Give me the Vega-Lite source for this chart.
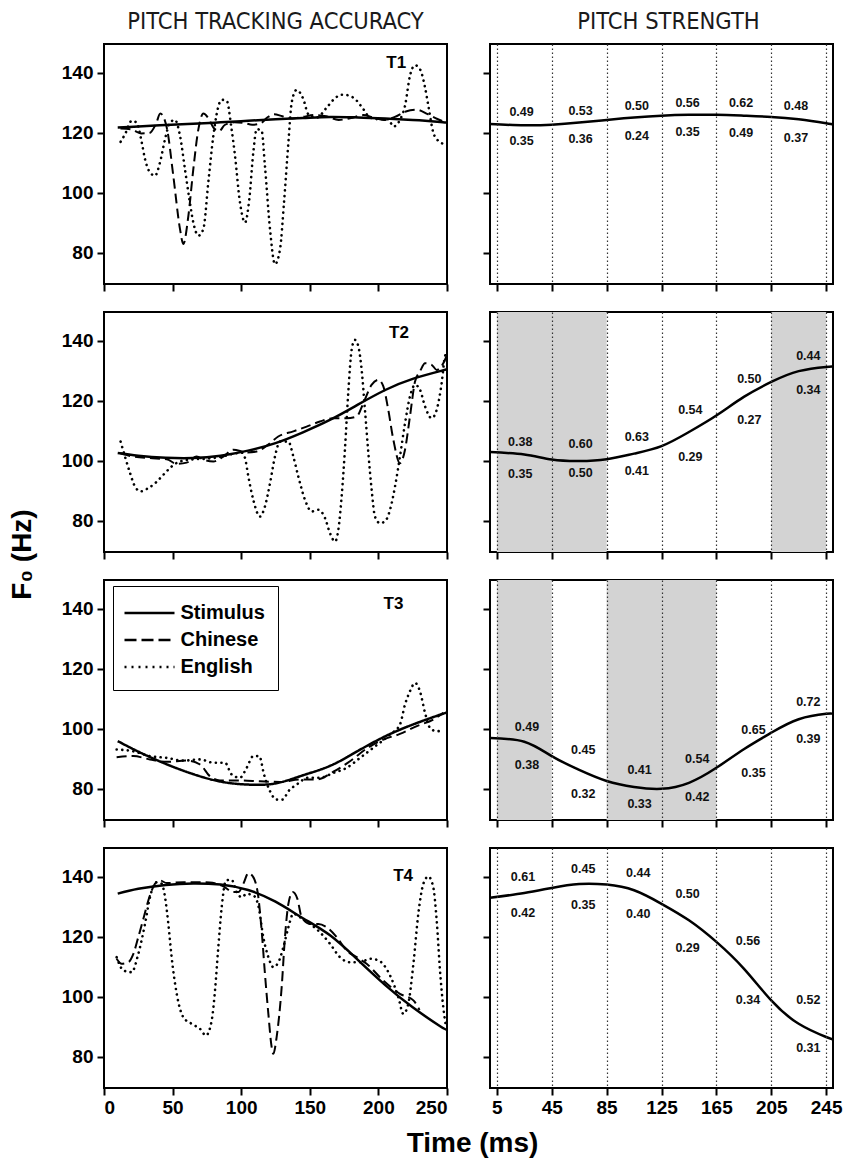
{
  "$schema": "https://vega.github.io/schema/vega-lite/v6.json",
  "background": "white",
  "padding": {"left": 7, "top": 8, "right": 0, "bottom": 0},
  "columns": 2,
  "bounds": "flush",
  "spacing": {"row": 28, "column": 43},
  "resolve": {"scale": {"strokeDash": "independent"}, "legend": {"strokeDash": "independent"}},
  "datasets": {
    "tracks": [
      {"tone":"T1","group":"Stimulus","t":10,"f0":121.7},{"tone":"T1","group":"Stimulus","t":25,"f0":122.0},{"tone":"T1","group":"Stimulus","t":45,"f0":122.5},{"tone":"T1","group":"Stimulus","t":65,"f0":122.9},{"tone":"T1","group":"Stimulus","t":85,"f0":123.4},{"tone":"T1","group":"Stimulus","t":105,"f0":123.9},{"tone":"T1","group":"Stimulus","t":125,"f0":124.4},{"tone":"T1","group":"Stimulus","t":145,"f0":124.8},{"tone":"T1","group":"Stimulus","t":165,"f0":125.2},{"tone":"T1","group":"Stimulus","t":185,"f0":125.0},{"tone":"T1","group":"Stimulus","t":205,"f0":124.7},{"tone":"T1","group":"Stimulus","t":225,"f0":124.2},{"tone":"T1","group":"Stimulus","t":245,"f0":123.5},{"tone":"T1","group":"Stimulus","t":250,"f0":123.3},
      {"tone":"T1","group":"Chinese","t":12,"f0":121.3},{"tone":"T1","group":"Chinese","t":20,"f0":121.0},{"tone":"T1","group":"Chinese","t":27,"f0":119.7},{"tone":"T1","group":"Chinese","t":33,"f0":119.8},{"tone":"T1","group":"Chinese","t":38,"f0":123.0},{"tone":"T1","group":"Chinese","t":41,"f0":126.3},{"tone":"T1","group":"Chinese","t":44,"f0":124.5},{"tone":"T1","group":"Chinese","t":46,"f0":121.1},{"tone":"T1","group":"Chinese","t":50.5,"f0":105.6},{"tone":"T1","group":"Chinese","t":55.4,"f0":87.8},{"tone":"T1","group":"Chinese","t":57.8,"f0":82.8},{"tone":"T1","group":"Chinese","t":61.5,"f0":92.2},{"tone":"T1","group":"Chinese","t":65.1,"f0":107.8},{"tone":"T1","group":"Chinese","t":68.8,"f0":121.1},{"tone":"T1","group":"Chinese","t":72.4,"f0":126.3},{"tone":"T1","group":"Chinese","t":76,"f0":124.8},{"tone":"T1","group":"Chinese","t":80,"f0":121.5},{"tone":"T1","group":"Chinese","t":84,"f0":120.5},{"tone":"T1","group":"Chinese","t":88,"f0":122.5},{"tone":"T1","group":"Chinese","t":95,"f0":123.4},{"tone":"T1","group":"Chinese","t":102,"f0":123.2},{"tone":"T1","group":"Chinese","t":108,"f0":122.6},{"tone":"T1","group":"Chinese","t":114,"f0":123.0},{"tone":"T1","group":"Chinese","t":119,"f0":125.0},{"tone":"T1","group":"Chinese","t":124,"f0":126.1},{"tone":"T1","group":"Chinese","t":130,"f0":125.4},{"tone":"T1","group":"Chinese","t":137,"f0":124.7},{"tone":"T1","group":"Chinese","t":145,"f0":125.2},{"tone":"T1","group":"Chinese","t":153,"f0":125.8},{"tone":"T1","group":"Chinese","t":162,"f0":125.4},{"tone":"T1","group":"Chinese","t":171,"f0":124.2},{"tone":"T1","group":"Chinese","t":180,"f0":124.8},{"tone":"T1","group":"Chinese","t":189,"f0":125.8},{"tone":"T1","group":"Chinese","t":196,"f0":125.0},{"tone":"T1","group":"Chinese","t":204,"f0":124.2},{"tone":"T1","group":"Chinese","t":212,"f0":125.2},{"tone":"T1","group":"Chinese","t":220,"f0":127.0},{"tone":"T1","group":"Chinese","t":228,"f0":127.6},{"tone":"T1","group":"Chinese","t":236,"f0":126.1},{"tone":"T1","group":"Chinese","t":243,"f0":124.5},{"tone":"T1","group":"Chinese","t":250,"f0":123.3},
      {"tone":"T1","group":"English","t":12.1,"f0":116.9},{"tone":"T1","group":"English","t":15.3,"f0":119.4},{"tone":"T1","group":"English","t":20.2,"f0":123.9},{"tone":"T1","group":"English","t":23.8,"f0":123.3},{"tone":"T1","group":"English","t":27.5,"f0":116.7},{"tone":"T1","group":"English","t":29.9,"f0":111.1},{"tone":"T1","group":"English","t":33.5,"f0":106.7},{"tone":"T1","group":"English","t":37.2,"f0":105.6},{"tone":"T1","group":"English","t":40.8,"f0":110.0},{"tone":"T1","group":"English","t":44.5,"f0":117.8},{"tone":"T1","group":"English","t":48.1,"f0":123.3},{"tone":"T1","group":"English","t":51.7,"f0":124.2},{"tone":"T1","group":"English","t":55.4,"f0":118.9},{"tone":"T1","group":"English","t":59,"f0":107.8},{"tone":"T1","group":"English","t":62.2,"f0":97.8},{"tone":"T1","group":"English","t":65.1,"f0":90.0},{"tone":"T1","group":"English","t":68.8,"f0":85.6},{"tone":"T1","group":"English","t":72.4,"f0":87.8},{"tone":"T1","group":"English","t":76,"f0":103.3},{"tone":"T1","group":"English","t":79.7,"f0":118.9},{"tone":"T1","group":"English","t":82.1,"f0":126.1},{"tone":"T1","group":"English","t":85.8,"f0":130.9},{"tone":"T1","group":"English","t":89.4,"f0":130.6},{"tone":"T1","group":"English","t":93,"f0":121.1},{"tone":"T1","group":"English","t":95.5,"f0":112.2},{"tone":"T1","group":"English","t":99.1,"f0":96.7},{"tone":"T1","group":"English","t":102.8,"f0":90.0},{"tone":"T1","group":"English","t":105.9,"f0":97.8},{"tone":"T1","group":"English","t":108.8,"f0":113.3},{"tone":"T1","group":"English","t":111.3,"f0":121.1},{"tone":"T1","group":"English","t":114.9,"f0":120.6},{"tone":"T1","group":"English","t":117.3,"f0":108.9},{"tone":"T1","group":"English","t":121,"f0":87.8},{"tone":"T1","group":"English","t":124.6,"f0":76.1},{"tone":"T1","group":"English","t":128.3,"f0":81.1},{"tone":"T1","group":"English","t":131.2,"f0":96.7},{"tone":"T1","group":"English","t":134.4,"f0":116.7},{"tone":"T1","group":"English","t":136.8,"f0":130.0},{"tone":"T1","group":"English","t":140.4,"f0":134.2},{"tone":"T1","group":"English","t":145.3,"f0":131.1},{"tone":"T1","group":"English","t":148.9,"f0":126.1},{"tone":"T1","group":"English","t":155,"f0":125.0},{"tone":"T1","group":"English","t":162.3,"f0":128.3},{"tone":"T1","group":"English","t":167.2,"f0":130.9},{"tone":"T1","group":"English","t":173.2,"f0":132.6},{"tone":"T1","group":"English","t":178,"f0":132.4},{"tone":"T1","group":"English","t":184.2,"f0":130.6},{"tone":"T1","group":"English","t":189,"f0":127.8},{"tone":"T1","group":"English","t":193.9,"f0":125.0},{"tone":"T1","group":"English","t":201.2,"f0":124.4},{"tone":"T1","group":"English","t":207.2,"f0":124.4},{"tone":"T1","group":"English","t":210.9,"f0":122.0},{"tone":"T1","group":"English","t":215.7,"f0":124.2},{"tone":"T1","group":"English","t":219.4,"f0":128.9},{"tone":"T1","group":"English","t":223,"f0":138.9},{"tone":"T1","group":"English","t":226.7,"f0":142.4},{"tone":"T1","group":"English","t":230.3,"f0":141.1},{"tone":"T1","group":"English","t":234,"f0":135.0},{"tone":"T1","group":"English","t":236.4,"f0":128.9},{"tone":"T1","group":"English","t":240,"f0":120.0},{"tone":"T1","group":"English","t":243.7,"f0":117.2},{"tone":"T1","group":"English","t":248.5,"f0":116.1},
      {"tone":"T2","group":"Stimulus","t":10,"f0":102.5},{"tone":"T2","group":"Stimulus","t":25,"f0":101.6},{"tone":"T2","group":"Stimulus","t":45,"f0":100.9},{"tone":"T2","group":"Stimulus","t":65,"f0":100.8},{"tone":"T2","group":"Stimulus","t":85,"f0":101.6},{"tone":"T2","group":"Stimulus","t":105,"f0":103.3},{"tone":"T2","group":"Stimulus","t":125,"f0":105.8},{"tone":"T2","group":"Stimulus","t":145,"f0":109.4},{"tone":"T2","group":"Stimulus","t":165,"f0":113.6},{"tone":"T2","group":"Stimulus","t":185,"f0":118.6},{"tone":"T2","group":"Stimulus","t":205,"f0":123.5},{"tone":"T2","group":"Stimulus","t":225,"f0":127.2},{"tone":"T2","group":"Stimulus","t":245,"f0":129.8},{"tone":"T2","group":"Stimulus","t":250,"f0":130.4},
      {"tone":"T2","group":"Chinese","t":12,"f0":102.4},{"tone":"T2","group":"Chinese","t":21.4,"f0":101.3},{"tone":"T2","group":"Chinese","t":33.5,"f0":100.8},{"tone":"T2","group":"Chinese","t":45.7,"f0":100.4},{"tone":"T2","group":"Chinese","t":53,"f0":98.9},{"tone":"T2","group":"Chinese","t":60.3,"f0":99.3},{"tone":"T2","group":"Chinese","t":67.5,"f0":101.3},{"tone":"T2","group":"Chinese","t":73,"f0":100.2},{"tone":"T2","group":"Chinese","t":79.7,"f0":99.7},{"tone":"T2","group":"Chinese","t":87,"f0":101.3},{"tone":"T2","group":"Chinese","t":94.3,"f0":103.6},{"tone":"T2","group":"Chinese","t":104,"f0":102.7},{"tone":"T2","group":"Chinese","t":111.3,"f0":103.0},{"tone":"T2","group":"Chinese","t":121,"f0":105.8},{"tone":"T2","group":"Chinese","t":127,"f0":108.0},{"tone":"T2","group":"Chinese","t":138,"f0":109.7},{"tone":"T2","group":"Chinese","t":147.7,"f0":111.3},{"tone":"T2","group":"Chinese","t":157.4,"f0":113.0},{"tone":"T2","group":"Chinese","t":167.2,"f0":114.1},{"tone":"T2","group":"Chinese","t":176.9,"f0":114.1},{"tone":"T2","group":"Chinese","t":184.2,"f0":114.7},{"tone":"T2","group":"Chinese","t":189,"f0":119.1},{"tone":"T2","group":"Chinese","t":195,"f0":125.2},{"tone":"T2","group":"Chinese","t":200,"f0":126.9},{"tone":"T2","group":"Chinese","t":203.6,"f0":124.7},{"tone":"T2","group":"Chinese","t":207.2,"f0":116.9},{"tone":"T2","group":"Chinese","t":210.9,"f0":106.9},{"tone":"T2","group":"Chinese","t":215.7,"f0":99.1},{"tone":"T2","group":"Chinese","t":219.4,"f0":103.6},{"tone":"T2","group":"Chinese","t":223,"f0":114.7},{"tone":"T2","group":"Chinese","t":226.7,"f0":126.3},{"tone":"T2","group":"Chinese","t":230.3,"f0":129.7},{"tone":"T2","group":"Chinese","t":234,"f0":132.4},{"tone":"T2","group":"Chinese","t":238.8,"f0":131.9},{"tone":"T2","group":"Chinese","t":242.5,"f0":130.2},{"tone":"T2","group":"Chinese","t":247.3,"f0":132.4},{"tone":"T2","group":"Chinese","t":249.8,"f0":135.0},
      {"tone":"T2","group":"English","t":12.1,"f0":106.3},{"tone":"T2","group":"English","t":15.3,"f0":101.3},{"tone":"T2","group":"English","t":19,"f0":95.8},{"tone":"T2","group":"English","t":22.6,"f0":91.3},{"tone":"T2","group":"English","t":26.7,"f0":89.7},{"tone":"T2","group":"English","t":32.3,"f0":90.8},{"tone":"T2","group":"English","t":37.2,"f0":92.4},{"tone":"T2","group":"English","t":43.2,"f0":95.2},{"tone":"T2","group":"English","t":49.3,"f0":98.0},{"tone":"T2","group":"English","t":55,"f0":99.6},{"tone":"T2","group":"English","t":65,"f0":100.4},{"tone":"T2","group":"English","t":75,"f0":100.6},{"tone":"T2","group":"English","t":85,"f0":101.2},{"tone":"T2","group":"English","t":95,"f0":102.3},{"tone":"T2","group":"English","t":100.5,"f0":102.6},{"tone":"T2","group":"English","t":102.8,"f0":100.8},{"tone":"T2","group":"English","t":105.2,"f0":94.7},{"tone":"T2","group":"English","t":108.8,"f0":86.9},{"tone":"T2","group":"English","t":113.7,"f0":81.3},{"tone":"T2","group":"English","t":117.3,"f0":84.7},{"tone":"T2","group":"English","t":121,"f0":92.4},{"tone":"T2","group":"English","t":124.6,"f0":101.3},{"tone":"T2","group":"English","t":128.3,"f0":106.3},{"tone":"T2","group":"English","t":134.4,"f0":106.3},{"tone":"T2","group":"English","t":138,"f0":101.3},{"tone":"T2","group":"English","t":141.6,"f0":94.7},{"tone":"T2","group":"English","t":146.5,"f0":86.9},{"tone":"T2","group":"English","t":151.4,"f0":83.0},{"tone":"T2","group":"English","t":156.2,"f0":83.6},{"tone":"T2","group":"English","t":161.1,"f0":80.8},{"tone":"T2","group":"English","t":164.7,"f0":75.8},{"tone":"T2","group":"English","t":168.4,"f0":73.0},{"tone":"T2","group":"English","t":170.8,"f0":76.9},{"tone":"T2","group":"English","t":173.2,"f0":88.0},{"tone":"T2","group":"English","t":175.6,"f0":103.6},{"tone":"T2","group":"English","t":178,"f0":122.4},{"tone":"T2","group":"English","t":180.5,"f0":136.9},{"tone":"T2","group":"English","t":182.9,"f0":140.2},{"tone":"T2","group":"English","t":185.4,"f0":138.0},{"tone":"T2","group":"English","t":187.8,"f0":130.2},{"tone":"T2","group":"English","t":190.2,"f0":116.9},{"tone":"T2","group":"English","t":192.7,"f0":102.4},{"tone":"T2","group":"English","t":195.1,"f0":90.2},{"tone":"T2","group":"English","t":197.5,"f0":81.3},{"tone":"T2","group":"English","t":201.2,"f0":79.1},{"tone":"T2","group":"English","t":204.8,"f0":79.7},{"tone":"T2","group":"English","t":208.5,"f0":83.6},{"tone":"T2","group":"English","t":212.1,"f0":91.3},{"tone":"T2","group":"English","t":215.7,"f0":101.3},{"tone":"T2","group":"English","t":219.4,"f0":112.4},{"tone":"T2","group":"English","t":223,"f0":121.3},{"tone":"T2","group":"English","t":226.7,"f0":125.2},{"tone":"T2","group":"English","t":230.3,"f0":123.6},{"tone":"T2","group":"English","t":234,"f0":118.0},{"tone":"T2","group":"English","t":238.8,"f0":114.1},{"tone":"T2","group":"English","t":242.5,"f0":116.9},{"tone":"T2","group":"English","t":246.1,"f0":125.8},{"tone":"T2","group":"English","t":248.5,"f0":134.7},{"tone":"T2","group":"English","t":249.8,"f0":135.8},
      {"tone":"T3","group":"Stimulus","t":10,"f0":95.8},{"tone":"T3","group":"Stimulus","t":25,"f0":92.3},{"tone":"T3","group":"Stimulus","t":45,"f0":88.2},{"tone":"T3","group":"Stimulus","t":65,"f0":84.8},{"tone":"T3","group":"Stimulus","t":85,"f0":82.3},{"tone":"T3","group":"Stimulus","t":105,"f0":81.3},{"tone":"T3","group":"Stimulus","t":125,"f0":81.7},{"tone":"T3","group":"Stimulus","t":145,"f0":84.4},{"tone":"T3","group":"Stimulus","t":165,"f0":87.6},{"tone":"T3","group":"Stimulus","t":185,"f0":92.5},{"tone":"T3","group":"Stimulus","t":205,"f0":97.4},{"tone":"T3","group":"Stimulus","t":225,"f0":101.3},{"tone":"T3","group":"Stimulus","t":245,"f0":104.6},{"tone":"T3","group":"Stimulus","t":250,"f0":105.3},
      {"tone":"T3","group":"Chinese","t":9.2,"f0":90.4},{"tone":"T3","group":"Chinese","t":21.4,"f0":90.8},{"tone":"T3","group":"Chinese","t":33.5,"f0":89.7},{"tone":"T3","group":"Chinese","t":45.7,"f0":88.9},{"tone":"T3","group":"Chinese","t":60.3,"f0":89.3},{"tone":"T3","group":"Chinese","t":70,"f0":88.0},{"tone":"T3","group":"Chinese","t":77.2,"f0":84.1},{"tone":"T3","group":"Chinese","t":84.5,"f0":82.7},{"tone":"T3","group":"Chinese","t":99.1,"f0":82.7},{"tone":"T3","group":"Chinese","t":113.7,"f0":82.4},{"tone":"T3","group":"Chinese","t":128.3,"f0":82.2},{"tone":"T3","group":"Chinese","t":142.9,"f0":83.0},{"tone":"T3","group":"Chinese","t":155,"f0":83.0},{"tone":"T3","group":"Chinese","t":167.2,"f0":85.6},{"tone":"T3","group":"Chinese","t":179.3,"f0":89.1},{"tone":"T3","group":"Chinese","t":191.4,"f0":93.3},{"tone":"T3","group":"Chinese","t":203.6,"f0":96.3},{"tone":"T3","group":"Chinese","t":215.7,"f0":98.2},{"tone":"T3","group":"Chinese","t":228,"f0":100.8},{"tone":"T3","group":"Chinese","t":240,"f0":103.0},{"tone":"T3","group":"Chinese","t":247.3,"f0":105.2},
      {"tone":"T3","group":"English","t":9.2,"f0":93.0},{"tone":"T3","group":"English","t":21.4,"f0":92.4},{"tone":"T3","group":"English","t":33.5,"f0":90.8},{"tone":"T3","group":"English","t":45.7,"f0":90.2},{"tone":"T3","group":"English","t":57.8,"f0":89.3},{"tone":"T3","group":"English","t":70,"f0":89.7},{"tone":"T3","group":"English","t":79.7,"f0":88.6},{"tone":"T3","group":"English","t":88.2,"f0":88.6},{"tone":"T3","group":"English","t":93,"f0":84.7},{"tone":"T3","group":"English","t":99.1,"f0":83.6},{"tone":"T3","group":"English","t":104,"f0":86.9},{"tone":"T3","group":"English","t":108.8,"f0":90.8},{"tone":"T3","group":"English","t":113.2,"f0":90.8},{"tone":"T3","group":"English","t":116.6,"f0":84.7},{"tone":"T3","group":"English","t":121,"f0":79.1},{"tone":"T3","group":"English","t":125.8,"f0":76.3},{"tone":"T3","group":"English","t":130.2,"f0":76.3},{"tone":"T3","group":"English","t":134.4,"f0":79.1},{"tone":"T3","group":"English","t":140.4,"f0":81.3},{"tone":"T3","group":"English","t":148.9,"f0":83.6},{"tone":"T3","group":"English","t":157.4,"f0":83.6},{"tone":"T3","group":"English","t":167.2,"f0":85.2},{"tone":"T3","group":"English","t":176.9,"f0":86.9},{"tone":"T3","group":"English","t":186.6,"f0":90.2},{"tone":"T3","group":"English","t":196.3,"f0":93.6},{"tone":"T3","group":"English","t":208.5,"f0":98.0},{"tone":"T3","group":"English","t":215.7,"f0":101.3},{"tone":"T3","group":"English","t":219.4,"f0":108.0},{"tone":"T3","group":"English","t":223,"f0":112.4},{"tone":"T3","group":"English","t":226.7,"f0":115.2},{"tone":"T3","group":"English","t":230.3,"f0":112.4},{"tone":"T3","group":"English","t":234,"f0":105.2},{"tone":"T3","group":"English","t":237.6,"f0":100.2},{"tone":"T3","group":"English","t":242.5,"f0":99.1},{"tone":"T3","group":"English","t":247.3,"f0":99.3},
      {"tone":"T4","group":"Stimulus","t":10,"f0":134.3},{"tone":"T4","group":"Stimulus","t":25,"f0":135.9},{"tone":"T4","group":"Stimulus","t":45,"f0":137.2},{"tone":"T4","group":"Stimulus","t":65,"f0":137.7},{"tone":"T4","group":"Stimulus","t":85,"f0":137.3},{"tone":"T4","group":"Stimulus","t":105,"f0":135.5},{"tone":"T4","group":"Stimulus","t":125,"f0":131.6},{"tone":"T4","group":"Stimulus","t":145,"f0":126.1},{"tone":"T4","group":"Stimulus","t":165,"f0":120.3},{"tone":"T4","group":"Stimulus","t":185,"f0":112.2},{"tone":"T4","group":"Stimulus","t":205,"f0":103.8},{"tone":"T4","group":"Stimulus","t":225,"f0":96.4},{"tone":"T4","group":"Stimulus","t":245,"f0":90.1},{"tone":"T4","group":"Stimulus","t":250,"f0":88.9},
      {"tone":"T4","group":"Chinese","t":9.2,"f0":112.6},{"tone":"T4","group":"Chinese","t":12.9,"f0":110.9},{"tone":"T4","group":"Chinese","t":17.7,"f0":111.4},{"tone":"T4","group":"Chinese","t":21.4,"f0":114.2},{"tone":"T4","group":"Chinese","t":25,"f0":119.8},{"tone":"T4","group":"Chinese","t":28.7,"f0":125.9},{"tone":"T4","group":"Chinese","t":32.3,"f0":132.0},{"tone":"T4","group":"Chinese","t":37.2,"f0":137.6},{"tone":"T4","group":"Chinese","t":40.8,"f0":138.7},{"tone":"T4","group":"Chinese","t":45.7,"f0":137.8},{"tone":"T4","group":"Chinese","t":58,"f0":138.1},{"tone":"T4","group":"Chinese","t":70,"f0":138.1},{"tone":"T4","group":"Chinese","t":77,"f0":138.0},{"tone":"T4","group":"Chinese","t":87,"f0":136.7},{"tone":"T4","group":"Chinese","t":94.3,"f0":134.8},{"tone":"T4","group":"Chinese","t":97.9,"f0":134.8},{"tone":"T4","group":"Chinese","t":101.6,"f0":137.6},{"tone":"T4","group":"Chinese","t":105.2,"f0":141.1},{"tone":"T4","group":"Chinese","t":108.8,"f0":139.8},{"tone":"T4","group":"Chinese","t":112.5,"f0":133.1},{"tone":"T4","group":"Chinese","t":114.9,"f0":122.0},{"tone":"T4","group":"Chinese","t":117.3,"f0":107.6},{"tone":"T4","group":"Chinese","t":119.8,"f0":94.2},{"tone":"T4","group":"Chinese","t":122.2,"f0":83.1},{"tone":"T4","group":"Chinese","t":123.4,"f0":80.9},{"tone":"T4","group":"Chinese","t":125.8,"f0":86.4},{"tone":"T4","group":"Chinese","t":129.5,"f0":103.1},{"tone":"T4","group":"Chinese","t":131.9,"f0":119.8},{"tone":"T4","group":"Chinese","t":134.4,"f0":130.9},{"tone":"T4","group":"Chinese","t":137.5,"f0":134.8},{"tone":"T4","group":"Chinese","t":140.9,"f0":132.6},{"tone":"T4","group":"Chinese","t":144.1,"f0":126.4},{"tone":"T4","group":"Chinese","t":150.2,"f0":124.2},{"tone":"T4","group":"Chinese","t":156.2,"f0":124.2},{"tone":"T4","group":"Chinese","t":162.3,"f0":123.1},{"tone":"T4","group":"Chinese","t":169.6,"f0":119.8},{"tone":"T4","group":"Chinese","t":176.9,"f0":115.3},{"tone":"T4","group":"Chinese","t":184.2,"f0":113.1},{"tone":"T4","group":"Chinese","t":191.4,"f0":110.9},{"tone":"T4","group":"Chinese","t":203.6,"f0":105.3},{"tone":"T4","group":"Chinese","t":215.7,"f0":100.9},{"tone":"T4","group":"Chinese","t":225.5,"f0":98.7},{"tone":"T4","group":"Chinese","t":230,"f0":95.5},
      {"tone":"T4","group":"English","t":9.2,"f0":113.1},{"tone":"T4","group":"English","t":14.1,"f0":108.7},{"tone":"T4","group":"English","t":20.2,"f0":108.1},{"tone":"T4","group":"English","t":25,"f0":114.2},{"tone":"T4","group":"English","t":29.9,"f0":124.2},{"tone":"T4","group":"English","t":33.5,"f0":133.1},{"tone":"T4","group":"English","t":38.4,"f0":138.1},{"tone":"T4","group":"English","t":42,"f0":137.6},{"tone":"T4","group":"English","t":44.5,"f0":133.1},{"tone":"T4","group":"English","t":46.9,"f0":124.2},{"tone":"T4","group":"English","t":49.3,"f0":113.1},{"tone":"T4","group":"English","t":53,"f0":100.9},{"tone":"T4","group":"English","t":57.8,"f0":93.1},{"tone":"T4","group":"English","t":63.9,"f0":90.9},{"tone":"T4","group":"English","t":70,"f0":89.2},{"tone":"T4","group":"English","t":74.3,"f0":87.0},{"tone":"T4","group":"English","t":78.5,"f0":92.0},{"tone":"T4","group":"English","t":80.9,"f0":102.0},{"tone":"T4","group":"English","t":83.3,"f0":116.4},{"tone":"T4","group":"English","t":85.8,"f0":129.8},{"tone":"T4","group":"English","t":88.9,"f0":138.7},{"tone":"T4","group":"English","t":93,"f0":138.9},{"tone":"T4","group":"English","t":96.7,"f0":134.8},{"tone":"T4","group":"English","t":100.3,"f0":133.1},{"tone":"T4","group":"English","t":104,"f0":134.2},{"tone":"T4","group":"English","t":108.8,"f0":133.7},{"tone":"T4","group":"English","t":112.5,"f0":130.3},{"tone":"T4","group":"English","t":116.1,"f0":119.8},{"tone":"T4","group":"English","t":119.8,"f0":113.1},{"tone":"T4","group":"English","t":123.4,"f0":109.8},{"tone":"T4","group":"English","t":127.1,"f0":111.4},{"tone":"T4","group":"English","t":130.7,"f0":116.4},{"tone":"T4","group":"English","t":134.4,"f0":123.1},{"tone":"T4","group":"English","t":138,"f0":127.6},{"tone":"T4","group":"English","t":142.9,"f0":126.4},{"tone":"T4","group":"English","t":150.2,"f0":124.2},{"tone":"T4","group":"English","t":157.4,"f0":121.4},{"tone":"T4","group":"English","t":164.7,"f0":117.6},{"tone":"T4","group":"English","t":172,"f0":113.1},{"tone":"T4","group":"English","t":179.3,"f0":111.4},{"tone":"T4","group":"English","t":186.6,"f0":111.4},{"tone":"T4","group":"English","t":193.9,"f0":112.6},{"tone":"T4","group":"English","t":200.2,"f0":112.0},{"tone":"T4","group":"English","t":208.5,"f0":107.0},{"tone":"T4","group":"English","t":214.5,"f0":99.8},{"tone":"T4","group":"English","t":218.2,"f0":94.2},{"tone":"T4","group":"English","t":221.8,"f0":97.6},{"tone":"T4","group":"English","t":225.5,"f0":110.9},{"tone":"T4","group":"English","t":229.1,"f0":127.6},{"tone":"T4","group":"English","t":232.8,"f0":137.6},{"tone":"T4","group":"English","t":236.4,"f0":140.0},{"tone":"T4","group":"English","t":240,"f0":136.4},{"tone":"T4","group":"English","t":242.5,"f0":125.3},{"tone":"T4","group":"English","t":244.9,"f0":108.7},{"tone":"T4","group":"English","t":247.3,"f0":96.4},{"tone":"T4","group":"English","t":249.3,"f0":89.8}
    ],
    "strength_curve": [
      {"tone":"T1","t":0,"f0":122.8},{"tone":"T1","t":25,"f0":122.4},{"tone":"T1","t":45,"f0":122.6},{"tone":"T1","t":65,"f0":123.3},{"tone":"T1","t":85,"f0":124.2},{"tone":"T1","t":105,"f0":125.0},{"tone":"T1","t":125,"f0":125.6},{"tone":"T1","t":145,"f0":125.9},{"tone":"T1","t":165,"f0":125.9},{"tone":"T1","t":185,"f0":125.6},{"tone":"T1","t":205,"f0":125.2},{"tone":"T1","t":225,"f0":124.4},{"tone":"T1","t":245,"f0":123.1},{"tone":"T1","t":250,"f0":122.7},
      {"tone":"T2","t":0,"f0":102.8},{"tone":"T2","t":25,"f0":102.0},{"tone":"T2","t":45,"f0":100.3},{"tone":"T2","t":65,"f0":99.8},{"tone":"T2","t":85,"f0":100.4},{"tone":"T2","t":105,"f0":102.3},{"tone":"T2","t":125,"f0":104.8},{"tone":"T2","t":145,"f0":109.5},{"tone":"T2","t":165,"f0":115.0},{"tone":"T2","t":185,"f0":121.2},{"tone":"T2","t":205,"f0":126.2},{"tone":"T2","t":225,"f0":129.8},{"tone":"T2","t":245,"f0":131.2},{"tone":"T2","t":250,"f0":131.3},
      {"tone":"T3","t":0,"f0":96.8},{"tone":"T3","t":25,"f0":95.6},{"tone":"T3","t":45,"f0":90.8},{"tone":"T3","t":65,"f0":86.2},{"tone":"T3","t":85,"f0":82.5},{"tone":"T3","t":105,"f0":80.5},{"tone":"T3","t":125,"f0":79.9},{"tone":"T3","t":145,"f0":81.9},{"tone":"T3","t":165,"f0":86.9},{"tone":"T3","t":185,"f0":93.1},{"tone":"T3","t":205,"f0":98.6},{"tone":"T3","t":225,"f0":103.1},{"tone":"T3","t":245,"f0":104.9},{"tone":"T3","t":250,"f0":104.9},
      {"tone":"T4","t":0,"f0":132.9},{"tone":"T4","t":25,"f0":134.5},{"tone":"T4","t":45,"f0":136.2},{"tone":"T4","t":65,"f0":137.5},{"tone":"T4","t":85,"f0":137.3},{"tone":"T4","t":105,"f0":135.4},{"tone":"T4","t":125,"f0":130.9},{"tone":"T4","t":145,"f0":125.4},{"tone":"T4","t":165,"f0":118.2},{"tone":"T4","t":185,"f0":109.3},{"tone":"T4","t":205,"f0":98.7},{"tone":"T4","t":225,"f0":90.9},{"tone":"T4","t":245,"f0":86.5},{"tone":"T4","t":250,"f0":85.7}
    ],
    "strength_labels": [
      {"tone":"T1","group":"Chinese","t":23,"f0":127.0,"value":0.49},{"tone":"T1","group":"Chinese","t":66,"f0":127.3,"value":0.53},{"tone":"T1","group":"Chinese","t":107,"f0":129.0,"value":0.50},{"tone":"T1","group":"Chinese","t":144,"f0":129.7,"value":0.56},{"tone":"T1","group":"Chinese","t":183,"f0":130.0,"value":0.62},{"tone":"T1","group":"Chinese","t":223,"f0":128.7,"value":0.48},
      {"tone":"T1","group":"English","t":23,"f0":117.3,"value":0.35},{"tone":"T1","group":"English","t":66,"f0":117.7,"value":0.36},{"tone":"T1","group":"English","t":107,"f0":119.0,"value":0.24},{"tone":"T1","group":"English","t":144,"f0":120.3,"value":0.35},{"tone":"T1","group":"English","t":183,"f0":119.7,"value":0.49},{"tone":"T1","group":"English","t":223,"f0":118.3,"value":0.37},
      {"tone":"T2","group":"Chinese","t":22,"f0":106.2,"value":0.38},{"tone":"T2","group":"Chinese","t":66,"f0":105.6,"value":0.60},{"tone":"T2","group":"Chinese","t":107,"f0":108.0,"value":0.63},{"tone":"T2","group":"Chinese","t":146,"f0":116.9,"value":0.54},{"tone":"T2","group":"Chinese","t":189,"f0":127.3,"value":0.50},{"tone":"T2","group":"Chinese","t":232,"f0":134.7,"value":0.44},
      {"tone":"T2","group":"English","t":22,"f0":95.6,"value":0.35},{"tone":"T2","group":"English","t":66,"f0":95.8,"value":0.50},{"tone":"T2","group":"English","t":107,"f0":96.4,"value":0.41},{"tone":"T2","group":"English","t":146,"f0":101.2,"value":0.29},{"tone":"T2","group":"English","t":189,"f0":113.4,"value":0.27},{"tone":"T2","group":"English","t":232,"f0":123.4,"value":0.34},
      {"tone":"T3","group":"Chinese","t":27,"f0":100.6,"value":0.49},{"tone":"T3","group":"Chinese","t":68,"f0":92.7,"value":0.45},{"tone":"T3","group":"Chinese","t":109,"f0":86.1,"value":0.41},{"tone":"T3","group":"Chinese","t":151,"f0":89.7,"value":0.54},{"tone":"T3","group":"Chinese","t":192,"f0":99.5,"value":0.65},{"tone":"T3","group":"Chinese","t":232,"f0":108.9,"value":0.72},
      {"tone":"T3","group":"English","t":27,"f0":87.8,"value":0.38},{"tone":"T3","group":"English","t":68,"f0":78.1,"value":0.32},{"tone":"T3","group":"English","t":109,"f0":74.7,"value":0.33},{"tone":"T3","group":"English","t":151,"f0":77.3,"value":0.42},{"tone":"T3","group":"English","t":192,"f0":85.3,"value":0.35},{"tone":"T3","group":"English","t":232,"f0":96.4,"value":0.39},
      {"tone":"T4","group":"Chinese","t":24,"f0":139.8,"value":0.61},{"tone":"T4","group":"Chinese","t":68,"f0":142.4,"value":0.45},{"tone":"T4","group":"Chinese","t":108,"f0":141.3,"value":0.44},{"tone":"T4","group":"Chinese","t":144,"f0":134.3,"value":0.50},{"tone":"T4","group":"Chinese","t":188,"f0":118.5,"value":0.56},{"tone":"T4","group":"Chinese","t":232,"f0":98.7,"value":0.52},
      {"tone":"T4","group":"English","t":24,"f0":127.8,"value":0.42},{"tone":"T4","group":"English","t":68,"f0":130.6,"value":0.35},{"tone":"T4","group":"English","t":108,"f0":127.6,"value":0.40},{"tone":"T4","group":"English","t":144,"f0":116.2,"value":0.29},{"tone":"T4","group":"English","t":188,"f0":99.0,"value":0.34},{"tone":"T4","group":"English","t":232,"f0":82.8,"value":0.31}
    ],
    "bands": [
      {"tone":"T2","start":5,"end":85},{"tone":"T2","start":205,"end":245},
      {"tone":"T3","start":5,"end":45},{"tone":"T3","start":85,"end":165}
    ],
    "tone_tags": [
      {"tone":"T1","t":213,"f0":143.2},{"tone":"T2","t":215,"f0":142.6},{"tone":"T3","t":211,"f0":141.5},{"tone":"T4","t":218,"f0":140.3}
    ]
  },
  "concat": [
    {
      "width": 343, "height": 240,
      "title": {"text": "PITCH TRACKING ACCURACY", "font": "Liberation Sans Narrow, DejaVu Sans Condensed, sans-serif", "fontSize": 23.5, "fontWeight": "normal", "color": "#1a1a1a", "anchor": "middle", "offset": 11},
      "encoding": {
        "x": {"field": "t", "type": "quantitative", "scale": {"domain": [0, 250], "nice": false, "zero": false}, "axis": {"values": [0, 50, 100, 150, 200, 250], "labels": false, "title": null}},
        "y": {"field": "f0", "type": "quantitative", "scale": {"domain": [69.5, 149.5], "nice": false, "zero": false}, "axis": {"values": [80, 100, 120, 140], "title": null}}
      },
      "layer": [
        {"data": {"name": "tracks"}, "transform": [{"filter": "datum.tone === 'T1' && datum.group === 'Stimulus'"}], "mark": {"type": "line", "color": "black", "strokeWidth": 2.5, "interpolate": "natural"}},
        {"data": {"name": "tracks"}, "transform": [{"filter": "datum.tone === 'T1' && datum.group === 'Chinese'"}], "mark": {"type": "line", "color": "black", "strokeWidth": 2, "strokeDash": [10, 5], "interpolate": "monotone"}},
        {"data": {"name": "tracks"}, "transform": [{"filter": "datum.tone === 'T1' && datum.group === 'English'"}], "mark": {"type": "line", "color": "black", "strokeWidth": 2.6, "strokeDash": [0.1, 5.5], "strokeCap": "round", "interpolate": "monotone"}},
        {"data": {"name": "tone_tags"}, "transform": [{"filter": "datum.tone === 'T1'"}], "mark": {"type": "text", "font": "Liberation Sans", "fontSize": 17, "fontWeight": "bold", "color": "black"}, "encoding": {"text": {"field": "tone"}}}
      ]
    },
    {
      "width": 343, "height": 240,
      "title": {"text": "PITCH STRENGTH", "font": "Liberation Sans Narrow, DejaVu Sans Condensed, sans-serif", "fontSize": 23.5, "fontWeight": "normal", "color": "#1a1a1a", "anchor": "middle", "offset": 11, "dx": 7},
      "layer": [
        {"data": {"name": "strength_curve"}, "transform": [{"filter": "datum.tone === 'T1'"}], "mark": {"type": "line", "color": "black", "strokeWidth": 2.5, "interpolate": "natural"},
         "encoding": {
           "x": {"field": "t", "type": "quantitative", "scale": {"domain": [0, 250], "nice": false, "zero": false}, "axis": {"values": [5, 45, 85, 125, 165, 205, 245], "labels": false, "title": null, "grid": true, "gridDash": [1.5, 2.5], "gridColor": "#333333", "gridWidth": 1.2, "zindex": 1}},
           "y": {"field": "f0", "type": "quantitative", "scale": {"domain": [69.5, 149.5], "nice": false, "zero": false}, "axis": {"values": [80, 100, 120, 140], "labels": false, "title": null}}
         }},
        {"data": {"name": "strength_labels"}, "transform": [{"filter": "datum.tone === 'T1'"}], "mark": {"type": "text", "font": "Liberation Sans", "fontSize": 12.5, "fontWeight": "bold", "color": "#111111"},
         "encoding": {
           "x": {"field": "t", "type": "quantitative"},
           "y": {"field": "f0", "type": "quantitative"},
           "text": {"field": "value", "type": "quantitative", "format": ".2f"}
         }}
      ]
    },
    {
      "width": 343, "height": 240,
      "encoding": {
        "x": {"field": "t", "type": "quantitative", "scale": {"domain": [0, 250], "nice": false, "zero": false}, "axis": {"values": [0, 50, 100, 150, 200, 250], "labels": false, "title": null}},
        "y": {"field": "f0", "type": "quantitative", "scale": {"domain": [69.5, 149.5], "nice": false, "zero": false}, "axis": {"values": [80, 100, 120, 140], "title": null}}
      },
      "layer": [
        {"data": {"name": "tracks"}, "transform": [{"filter": "datum.tone === 'T2' && datum.group === 'Stimulus'"}], "mark": {"type": "line", "color": "black", "strokeWidth": 2.5, "interpolate": "natural"}},
        {"data": {"name": "tracks"}, "transform": [{"filter": "datum.tone === 'T2' && datum.group === 'Chinese'"}], "mark": {"type": "line", "color": "black", "strokeWidth": 2, "strokeDash": [10, 5], "interpolate": "monotone"}},
        {"data": {"name": "tracks"}, "transform": [{"filter": "datum.tone === 'T2' && datum.group === 'English'"}], "mark": {"type": "line", "color": "black", "strokeWidth": 2.6, "strokeDash": [0.1, 5.5], "strokeCap": "round", "interpolate": "monotone"}},
        {"data": {"name": "tone_tags"}, "transform": [{"filter": "datum.tone === 'T2'"}], "mark": {"type": "text", "font": "Liberation Sans", "fontSize": 17, "fontWeight": "bold", "color": "black"}, "encoding": {"text": {"field": "tone"}}}
      ]
    },
    {
      "width": 343, "height": 240,
      "layer": [
        {"data": {"name": "bands"}, "transform": [{"filter": "datum.tone === 'T2'"}], "mark": {"type": "rect", "color": "#d3d3d3"},
         "encoding": {
           "x": {"field": "start", "type": "quantitative", "scale": {"domain": [0, 250], "nice": false, "zero": false}, "axis": {"values": [5, 45, 85, 125, 165, 205, 245], "labels": false, "title": null, "grid": true, "gridDash": [1.5, 2.5], "gridColor": "#333333", "gridWidth": 1.2, "zindex": 1}},
           "x2": {"field": "end"}
         }},
        {"data": {"name": "strength_curve"}, "transform": [{"filter": "datum.tone === 'T2'"}], "mark": {"type": "line", "color": "black", "strokeWidth": 2.5, "interpolate": "natural"},
         "encoding": {
           "x": {"field": "t", "type": "quantitative", "scale": {"domain": [0, 250], "nice": false, "zero": false}, "axis": {"values": [5, 45, 85, 125, 165, 205, 245], "labels": false, "title": null, "grid": true, "gridDash": [1.5, 2.5], "gridColor": "#333333", "gridWidth": 1.2, "zindex": 1}},
           "y": {"field": "f0", "type": "quantitative", "scale": {"domain": [69.5, 149.5], "nice": false, "zero": false}, "axis": {"values": [80, 100, 120, 140], "labels": false, "title": null}}
         }},
        {"data": {"name": "strength_labels"}, "transform": [{"filter": "datum.tone === 'T2'"}], "mark": {"type": "text", "font": "Liberation Sans", "fontSize": 12.5, "fontWeight": "bold", "color": "#111111"},
         "encoding": {
           "x": {"field": "t", "type": "quantitative"},
           "y": {"field": "f0", "type": "quantitative"},
           "text": {"field": "value", "type": "quantitative", "format": ".2f"}
         }}
      ]
    },
    {
      "width": 343, "height": 240,
      "encoding": {
        "x": {"field": "t", "type": "quantitative", "scale": {"domain": [0, 250], "nice": false, "zero": false}, "axis": {"values": [0, 50, 100, 150, 200, 250], "labels": false, "title": null}},
        "y": {"field": "f0", "type": "quantitative", "scale": {"domain": [69.5, 149.5], "nice": false, "zero": false}, "axis": {"values": [80, 100, 120, 140], "title": "F₀ (Hz)", "titleX": -74, "titleY": -26, "titleAngle": 270, "titleAlign": "center", "titleBaseline": "alphabetic", "titleFont": "Liberation Sans", "titleFontSize": 28, "titleFontWeight": "bold", "titleColor": "black"}}
      },
      "layer": [
        {"data": {"name": "tracks"}, "transform": [{"filter": "datum.tone === 'T3' && datum.group === 'Stimulus'"}], "mark": {"type": "line", "color": "black", "strokeWidth": 2.5, "interpolate": "natural"},
         "encoding": {"strokeDash": {"field": "group", "type": "nominal", "scale": {"domain": ["Stimulus", "Chinese", "English"], "range": [[1, 0], [12, 5], [2, 5]]}, "legend": {"title": null, "orient": "none", "legendX": 9, "legendY": 6, "direction": "vertical"}}}},
        {"data": {"name": "tracks"}, "transform": [{"filter": "datum.tone === 'T3' && datum.group === 'Chinese'"}], "mark": {"type": "line", "color": "black", "strokeWidth": 2, "strokeDash": [10, 5], "interpolate": "monotone"}},
        {"data": {"name": "tracks"}, "transform": [{"filter": "datum.tone === 'T3' && datum.group === 'English'"}], "mark": {"type": "line", "color": "black", "strokeWidth": 2.6, "strokeDash": [0.1, 5.5], "strokeCap": "round", "interpolate": "monotone"}},
        {"data": {"name": "tone_tags"}, "transform": [{"filter": "datum.tone === 'T3'"}], "mark": {"type": "text", "font": "Liberation Sans", "fontSize": 17, "fontWeight": "bold", "color": "black"}, "encoding": {"text": {"field": "tone"}}}
      ]
    },
    {
      "width": 343, "height": 240,
      "layer": [
        {"data": {"name": "bands"}, "transform": [{"filter": "datum.tone === 'T3'"}], "mark": {"type": "rect", "color": "#d3d3d3"},
         "encoding": {
           "x": {"field": "start", "type": "quantitative", "scale": {"domain": [0, 250], "nice": false, "zero": false}, "axis": {"values": [5, 45, 85, 125, 165, 205, 245], "labels": false, "title": null, "grid": true, "gridDash": [1.5, 2.5], "gridColor": "#333333", "gridWidth": 1.2, "zindex": 1}},
           "x2": {"field": "end"}
         }},
        {"data": {"name": "strength_curve"}, "transform": [{"filter": "datum.tone === 'T3'"}], "mark": {"type": "line", "color": "black", "strokeWidth": 2.5, "interpolate": "natural"},
         "encoding": {
           "x": {"field": "t", "type": "quantitative", "scale": {"domain": [0, 250], "nice": false, "zero": false}, "axis": {"values": [5, 45, 85, 125, 165, 205, 245], "labels": false, "title": null, "grid": true, "gridDash": [1.5, 2.5], "gridColor": "#333333", "gridWidth": 1.2, "zindex": 1}},
           "y": {"field": "f0", "type": "quantitative", "scale": {"domain": [69.5, 149.5], "nice": false, "zero": false}, "axis": {"values": [80, 100, 120, 140], "labels": false, "title": null}}
         }},
        {"data": {"name": "strength_labels"}, "transform": [{"filter": "datum.tone === 'T3'"}], "mark": {"type": "text", "font": "Liberation Sans", "fontSize": 12.5, "fontWeight": "bold", "color": "#111111"},
         "encoding": {
           "x": {"field": "t", "type": "quantitative"},
           "y": {"field": "f0", "type": "quantitative"},
           "text": {"field": "value", "type": "quantitative", "format": ".2f"}
         }}
      ]
    },
    {
      "width": 343, "height": 240,
      "encoding": {
        "x": {"field": "t", "type": "quantitative", "scale": {"domain": [0, 250], "nice": false, "zero": false}, "axis": {"values": [0, 50, 100, 150, 200, 250], "labels": true, "labelPadding": 3, "title": "Time (ms)", "titleX": 368, "titleY": 55, "titleAlign": "center", "titleBaseline": "middle", "titleFont": "Liberation Sans", "titleFontSize": 28, "titleFontWeight": "bold", "titleColor": "black"}},
        "y": {"field": "f0", "type": "quantitative", "scale": {"domain": [69.5, 149.5], "nice": false, "zero": false}, "axis": {"values": [80, 100, 120, 140], "title": null}}
      },
      "layer": [
        {"data": {"name": "tracks"}, "transform": [{"filter": "datum.tone === 'T4' && datum.group === 'Stimulus'"}], "mark": {"type": "line", "color": "black", "strokeWidth": 2.5, "interpolate": "natural"}},
        {"data": {"name": "tracks"}, "transform": [{"filter": "datum.tone === 'T4' && datum.group === 'Chinese'"}], "mark": {"type": "line", "color": "black", "strokeWidth": 2, "strokeDash": [10, 5], "interpolate": "monotone"}},
        {"data": {"name": "tracks"}, "transform": [{"filter": "datum.tone === 'T4' && datum.group === 'English'"}], "mark": {"type": "line", "color": "black", "strokeWidth": 2.6, "strokeDash": [0.1, 5.5], "strokeCap": "round", "interpolate": "monotone"}},
        {"data": {"name": "tone_tags"}, "transform": [{"filter": "datum.tone === 'T4'"}], "mark": {"type": "text", "font": "Liberation Sans", "fontSize": 17, "fontWeight": "bold", "color": "black"}, "encoding": {"text": {"field": "tone"}}}
      ]
    },
    {
      "width": 343, "height": 240,
      "layer": [
        {"data": {"name": "strength_curve"}, "transform": [{"filter": "datum.tone === 'T4'"}], "mark": {"type": "line", "color": "black", "strokeWidth": 2.5, "interpolate": "natural"},
         "encoding": {
           "x": {"field": "t", "type": "quantitative", "scale": {"domain": [0, 250], "nice": false, "zero": false}, "axis": {"values": [5, 45, 85, 125, 165, 205, 245], "labels": true, "labelPadding": 3, "title": null, "grid": true, "gridDash": [1.5, 2.5], "gridColor": "#333333", "gridWidth": 1.2, "zindex": 1}},
           "y": {"field": "f0", "type": "quantitative", "scale": {"domain": [69.5, 149.5], "nice": false, "zero": false}, "axis": {"values": [80, 100, 120, 140], "labels": false, "title": null}}
         }},
        {"data": {"name": "strength_labels"}, "transform": [{"filter": "datum.tone === 'T4'"}], "mark": {"type": "text", "font": "Liberation Sans", "fontSize": 12.5, "fontWeight": "bold", "color": "#111111"},
         "encoding": {
           "x": {"field": "t", "type": "quantitative"},
           "y": {"field": "f0", "type": "quantitative"},
           "text": {"field": "value", "type": "quantitative", "format": ".2f"}
         }}
      ]
    }
  ],
  "config": {
    "font": "Liberation Sans",
    "view": {"stroke": "black", "strokeWidth": 2},
    "axis": {"domain": false, "grid": false, "ticks": true, "tickColor": "black", "tickWidth": 2, "tickSize": 7, "labelFont": "Liberation Sans", "labelFontWeight": "bold", "labelFontSize": 19, "labelColor": "black", "labelPadding": 4},
    "legend": {"symbolType": "M-2,0H2", "symbolStrokeColor": "black", "symbolFillColor": "transparent", "symbolStrokeWidth": 2.5, "symbolSize": 625, "symbolOffset": 9.5, "labelFont": "Liberation Sans", "labelFontSize": 20, "labelFontWeight": "bold", "labelColor": "black", "strokeColor": "black", "fillColor": "white", "padding": 13, "rowPadding": 3, "labelOffset": 17}
  }
}
